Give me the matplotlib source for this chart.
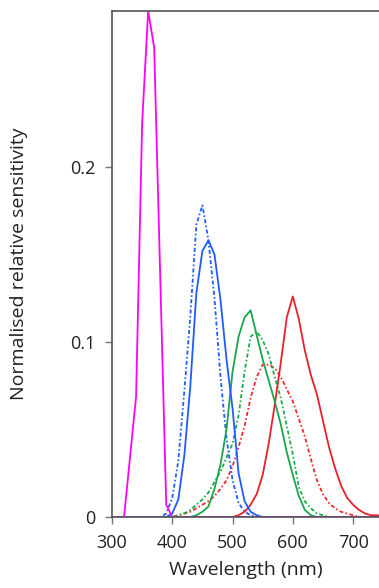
import numpy as np
import matplotlib
matplotlib.use('Agg')
import matplotlib.pyplot as plt

plt.rcParams['font.family'] = ['Open Sans', 'DejaVu Sans']

# UV-sensitive (magenta)
uv_wl = [300, 320, 340, 350, 360, 370, 390, 400, 750]
uv = [0.0, 0.0, 0.069, 0.225, 0.289, 0.268, 0.007, 0.0, 0.0]

# blue, solid
blue_wl = [300, 390, 400, 410, 420, 430, 440, 450, 460, 470, 480, 490, 500,
           510, 520, 530, 540, 550, 750]
blue = [0.0, 0.0, 0.002, 0.01, 0.035, 0.075, 0.128, 0.152, 0.158, 0.150, 0.124,
        0.09, 0.062, 0.025, 0.009, 0.003, 0.001, 0.0, 0.0]

# blue, dash-dot
blue_dd_wl = [300, 380, 390, 400, 410, 420, 430, 440, 450, 460, 470, 480, 490,
              500, 510, 520, 530, 540, 750]
blue_dd = [0.0, 0.0, 0.002, 0.011, 0.032, 0.072, 0.115, 0.167, 0.178, 0.158,
           0.125, 0.08, 0.045, 0.021, 0.008, 0.003, 0.001, 0.0, 0.0]

# green, solid
green_wl = [300, 430, 440, 450, 460, 470, 480, 490, 500, 510, 520, 530, 540,
            550, 560, 570, 580, 590, 600, 610, 620, 630, 640, 750]
green = [0.0, 0.0, 0.001, 0.003, 0.006, 0.016, 0.03, 0.05, 0.083, 0.103, 0.114,
         0.118, 0.104, 0.09, 0.078, 0.066, 0.053, 0.037, 0.024, 0.012, 0.004,
         0.001, 0.0, 0.0]

# green, dash-dot
green_dd_wl = [300, 400, 410, 420, 430, 440, 450, 460, 470, 480, 490, 500, 510,
               520, 530, 540, 550, 560, 570, 580, 590, 600, 610, 620, 630, 640,
               650, 660, 750]
green_dd = [0.0, 0.0, 0.001, 0.002, 0.004, 0.007, 0.01, 0.014, 0.02, 0.026,
            0.034, 0.042, 0.058, 0.083, 0.103, 0.106, 0.101, 0.093, 0.08, 0.068,
            0.052, 0.036, 0.017, 0.009, 0.005, 0.002, 0.001, 0.0, 0.0]

# red, solid
red_wl = [300, 500, 510, 520, 530, 540, 550, 560, 570, 580, 590, 600, 610, 620,
          630, 640, 650, 660, 670, 680, 690, 700, 710, 720, 730, 740, 750]
red = [0.0, 0.0, 0.001, 0.003, 0.007, 0.013, 0.024, 0.042, 0.064, 0.088, 0.114,
       0.126, 0.113, 0.095, 0.081, 0.07, 0.055, 0.04, 0.028, 0.018, 0.011, 0.007,
       0.004, 0.002, 0.001, 0.001, 0.0]

# red, dash-dot
red_dd_wl = [300, 400, 410, 420, 430, 440, 450, 460, 470, 480, 490, 500, 510,
             520, 530, 540, 550, 560, 570, 580, 590, 600, 610, 620, 630, 640,
             650, 660, 670, 680, 690, 700, 710, 750]
red_dd = [0.0, 0.0, 0.001, 0.002, 0.003, 0.005, 0.007, 0.009, 0.012, 0.016,
          0.021, 0.029, 0.04, 0.052, 0.068, 0.08, 0.087, 0.087, 0.085, 0.08,
          0.073, 0.066, 0.056, 0.046, 0.033, 0.021, 0.013, 0.008, 0.005, 0.003,
          0.002, 0.001, 0.0, 0.0]

fig = plt.figure(figsize=(3.79, 5.88), dpi=100)
ax = fig.add_axes([112 / 379, 1 - 517 / 588, 1 - 112 / 379, (517 - 11) / 588])

dd = (0, (2.2, 1.3, 0.9, 1.3))
lw = 1.3
ax.plot(red_dd_wl, red_dd, color='#ee2a2a', lw=lw, linestyle=dd)
ax.plot(green_dd_wl, green_dd, color='#1aaa4a', lw=lw, linestyle=dd)
ax.plot(blue_dd_wl, blue_dd, color='#1f5cff', lw=lw, linestyle=dd)
ax.plot(red_wl, red, color='#e8202a', lw=lw)
ax.plot(green_wl, green, color='#1aa64a', lw=lw)
ax.plot(blue_wl, blue, color='#1f5cff', lw=lw)
ax.plot(uv_wl, uv, color='#ff00ff', lw=lw)

ax.set_xlim(300, 743)
ax.set_ylim(0, 0.289)
ax.set_xticks([300, 400, 500, 600, 700])
ax.set_yticks([0, 0.1, 0.2])
ax.set_yticklabels(['0', '0.1', '0.2'])

ax.spines['right'].set_visible(False)
for s in ['left', 'top', 'bottom']:
    ax.spines[s].set_color('#555555')
    ax.spines[s].set_linewidth(1.2)

ax.tick_params(axis='both', direction='out', length=5, width=1, color='#777777',
               labelsize=13, labelcolor='#222222', pad=7)

ax.set_xlabel('Wavelength (nm)', fontsize=14, color='#222222', labelpad=7)
ax.set_ylabel('Normalised relative sensitivity', fontsize=14, color='#222222',
              labelpad=30)

fig.savefig('out.png', dpi=100)
